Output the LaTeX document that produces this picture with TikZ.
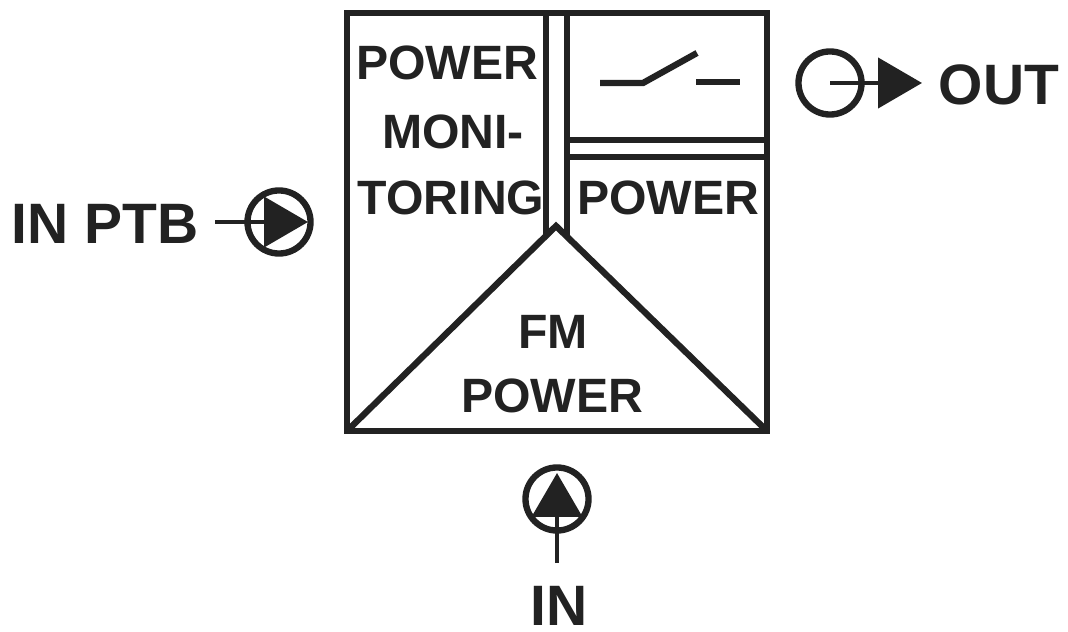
\documentclass[tikz,border=0pt]{standalone}
\usepackage{fontspec}
\setmainfont{Liberation Sans}
\usetikzlibrary{arrows.meta}
\definecolor{ink}{HTML}{222222}
\tikzset{
  wall/.style={ink, line width=1.8pt, line join=miter},
  signal/.style={ink, line width=1.3pt, -{Triangle[length=12.5pt,width=14.2pt]}},
  port/.style={circle, draw=ink, line width=1.8pt, minimum size=0.63cm, inner sep=0pt},
  biglabel/.style={ink, font=\fontsize{16.2}{18}\selectfont\bfseries, inner sep=0pt},
  boxlabel/.style={ink, font=\fontsize{13.7}{16}\selectfont\bfseries, inner sep=0pt}
}
\begin{document}
\begin{tikzpicture}[x=0.01cm,y=-0.01cm]
\useasboundingbox (0,0) rectangle (1068,631);
% outer box and triangle
\coordinate (tl) at (347,13);
\coordinate (tr) at (767,13);
\coordinate (bl) at (347,431);
\coordinate (br) at (767,431);
\coordinate (peak) at (556,226);
\draw [wall] (tl) -- (tr) -- (br) -- (bl) -- cycle;
\draw [wall] (bl) -- (peak) -- (br);
% double walls
\coordinate (chanla) at (546,13);
\coordinate (chanlb) at (546,236);
\coordinate (chanra) at (567,13);
\coordinate (chanrb) at (567,236);
\coordinate (splita) at (767,140);
\coordinate (splitb) at (767,157);
\draw [wall] (chanla) -- (chanlb);
\draw [wall] (chanra) -- (chanrb);
\draw [wall] (chanra |- splita) -- (splita);
\draw [wall] (chanra |- splitb) -- (splitb);
% switch
\coordinate (swa) at (600,83);
\coordinate (swb) at (643,83);
\coordinate (swc) at (697,53);
\coordinate (swd) at (696,82);
\coordinate (swe) at (740,82);
\draw [wall] (swa) -- (swb) -- (swc);
\draw [wall] (swd) -- (swe);
% texts in the box
\node [boxlabel] (powermon) at (447,63) {POWER};
\node [boxlabel] (moni) at (453,132) {MONI-};
\node [boxlabel] (toring) at (451,198) {TORING};
\node [boxlabel] (powersw) at (668,198) {POWER};
\node [boxlabel] (fm) at (553,332) {FM};
\node [boxlabel] (powerfm) at (552,396) {POWER};
% out
\node [port] (outport) at (830,83) {};
\coordinate (outtip) at (922,83);
\draw [signal] (outport.center) -- (outtip);
\node [biglabel] (outlabel) at (999,85) {OUT};
% in ptb
\node [port] (ptbport) at (279,222) {};
\coordinate (ptbstart) at (215,222);
\coordinate (ptbtip) at (308,222);
\draw [signal] (ptbstart) -- (ptbtip);
\node [biglabel] (ptblabel) at (105,224) {IN PTB};
% in
\node [port] (inport) at (557,499) {};
\coordinate (instart) at (557,563);
\coordinate (intip) at (557,473);
\draw [signal] (instart) -- (intip);
\node [biglabel] (inlabel) at (559,606) {IN};
\end{tikzpicture}
\end{document}
